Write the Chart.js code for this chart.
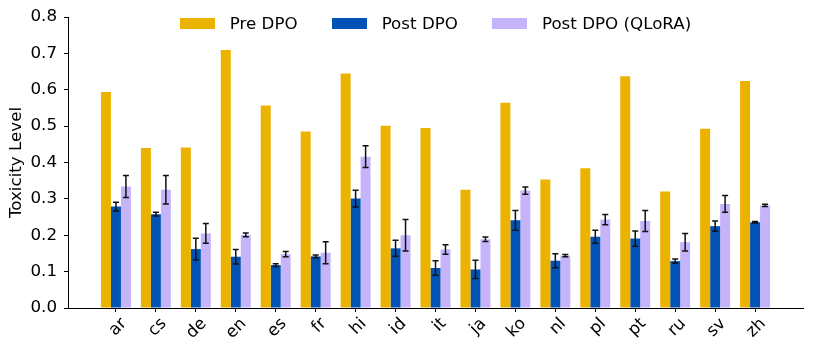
<!DOCTYPE html>
<html lang="en">
<head>
    <meta charset="UTF-8">
    <title>Toxicity Level by Language</title>
    <script src="https://cdn.jsdelivr.net/npm/chart.js"></script>
    <style>
        body {
            margin: 0;
            padding: 0;
            background: #fff;
            font-family: "DejaVu Sans", sans-serif;
        }
        .wrap {
            position: relative;
            width: 813px;
            height: 354px;
        }
        #legend {
            position: absolute;
            top: 14px;
            left: 68px;
            width: 735px;
            display: flex;
            justify-content: center;
            font-size: 16.7px;
            line-height: 19px;
            color: #000;
        }
        .item {
            display: flex;
            align-items: center;
            margin: 0 17px;
        }
        .swatch {
            width: 35px;
            height: 11px;
            margin-right: 15px;
        }
    </style>
</head>
<body>
    <div class="wrap">
        <canvas id="toxChart" width="813" height="354"></canvas>
        <div id="legend"></div>
    </div>

    <script>
        // data
        const languages = ['ar', 'cs', 'de', 'en', 'es', 'fr', 'hi', 'id', 'it', 'ja', 'ko', 'nl', 'pl', 'pt', 'ru', 'sv', 'zh'];
        const preDPO = [0.594, 0.440, 0.441, 0.709, 0.557, 0.485, 0.645, 0.501, 0.495, 0.325, 0.564, 0.353, 0.384, 0.637, 0.320, 0.493, 0.624];
        const postDPO = [0.279, 0.258, 0.162, 0.141, 0.118, 0.142, 0.301, 0.164, 0.110, 0.106, 0.241, 0.130, 0.196, 0.191, 0.129, 0.225, 0.236];
        const postDPOErr = [0.012, 0.005, 0.030, 0.020, 0.004, 0.004, 0.023, 0.022, 0.020, 0.025, 0.027, 0.019, 0.018, 0.021, 0.006, 0.014, 0.002];
        const qlora = [0.334, 0.325, 0.205, 0.201, 0.148, 0.152, 0.416, 0.200, 0.161, 0.189, 0.323, 0.144, 0.243, 0.239, 0.181, 0.286, 0.282];
        const qloraErr = [0.030, 0.039, 0.027, 0.005, 0.007, 0.030, 0.030, 0.043, 0.013, 0.006, 0.010, 0.003, 0.014, 0.029, 0.024, 0.023, 0.003];
        const yTicks = [0, 0.1, 0.2, 0.3, 0.4, 0.5, 0.6, 0.7, 0.8];

        const colors = ['#ebb300', '#0052b5', '#c6b4fb'];
        const FONT = {family: 'DejaVu Sans', size: 16.7};

        Chart.defaults.color = '#000';
        Chart.defaults.font = FONT;

        const toPoints = arr => arr.map((v, i) => ({x: i, y: v}));

        // black error bars with caps on top of the bars
        const errorBars = {
            id: 'errorBars',
            afterDatasetsDraw(chart) {
                const ctx = chart.ctx;
                const y = chart.scales.y;
                ctx.save();
                ctx.strokeStyle = '#111';
                ctx.lineWidth = 1.5;
                chart.data.datasets.forEach((ds, di) => {
                    if (!ds.errors) return;
                    chart.getDatasetMeta(di).data.forEach((bar, i) => {
                        const v = ds.data[i].y, e = ds.errors[i];
                        const top = y.getPixelForValue(v + e);
                        const bot = y.getPixelForValue(v - e);
                        ctx.beginPath();
                        ctx.moveTo(bar.x, top); ctx.lineTo(bar.x, bot);
                        ctx.moveTo(bar.x - 3, top); ctx.lineTo(bar.x + 3, top);
                        ctx.moveTo(bar.x - 3, bot); ctx.lineTo(bar.x + 3, bot);
                        ctx.stroke();
                    });
                });
                ctx.restore();
            }
        };

        const chart = new Chart(document.getElementById('toxChart'), {
            type: 'bar',
            data: {
                datasets: [
                    {label: 'Pre DPO', data: toPoints(preDPO), backgroundColor: colors[0]},
                    {label: 'Post DPO', data: toPoints(postDPO), backgroundColor: colors[1], errors: postDPOErr},
                    {label: 'Post DPO (QLoRA)', data: toPoints(qlora), backgroundColor: colors[2], errors: qloraErr}
                ]
            },
            options: {
                responsive: false,
                animation: false,
                layout: {padding: {top: 16, right: 10, bottom: 0, left: 0}},
                datasets: {
                    bar: {categoryPercentage: 0.75, barPercentage: 1.0}
                },
                plugins: {
                    legend: {display: false},
                    tooltip: {enabled: false}
                },
                scales: {
                    x: {
                        type: 'linear',
                        offset: false,
                        min: -1.2,
                        max: 17.2,
                        afterBuildTicks: scale => {
                            scale.ticks = languages.map((_, i) => ({value: i}));
                        },
                        afterFit: scale => { scale.height = 46; },
                        ticks: {
                            autoSkip: false,
                            minRotation: 45,
                            maxRotation: 45,
                            padding: 2,
                            labelOffset: 8,
                            callback: v => languages[v]
                        },
                        grid: {drawOnChartArea: false, offset: false, color: '#000', tickLength: 4},
                        border: {color: '#000', width: 1}
                    },
                    y: {
                        min: 0,
                        max: 0.8,
                        afterBuildTicks: scale => {
                            scale.ticks = yTicks.map(v => ({value: v}));
                        },
                        afterFit: scale => { scale.width = 68; },
                        ticks: {
                            padding: 7,
                            callback: v => v.toFixed(1)
                        },
                        title: {
                            display: true,
                            text: 'Toxicity Level',
                            font: FONT,
                            padding: {top: 7, bottom: 0}
                        },
                        grid: {drawOnChartArea: false, color: '#000', tickLength: 4},
                        border: {color: '#000', width: 1}
                    }
                }
            },
            plugins: [errorBars]
        });

        // legend as html over the top of the plot
        const legend = document.getElementById('legend');
        chart.data.datasets.forEach(ds => {
            const item = document.createElement('div');
            item.className = 'item';
            const sw = document.createElement('span');
            sw.className = 'swatch';
            sw.style.background = ds.backgroundColor;
            const txt = document.createElement('span');
            txt.textContent = ds.label;
            item.appendChild(sw);
            item.appendChild(txt);
            legend.appendChild(item);
        });
    </script>
</body>
</html>
